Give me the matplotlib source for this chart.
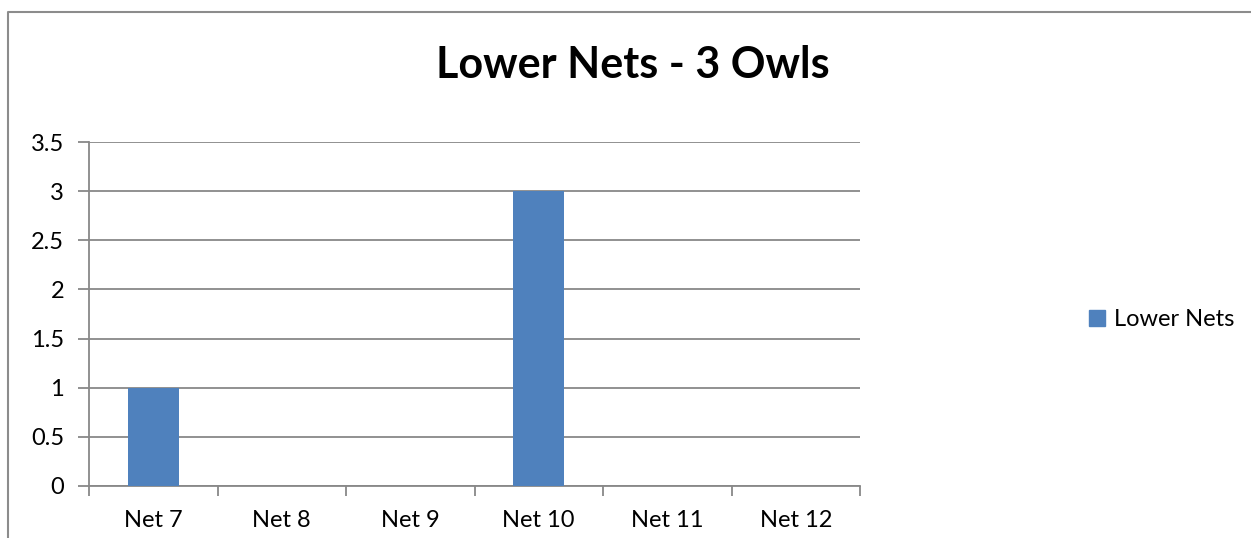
import numpy as np
import matplotlib.pyplot as plt
from matplotlib.lines import Line2D
from matplotlib.patches import Patch

plt.rcParams['font.family'] = ['Lato', 'DejaVu Sans']

# Daten
nets = ['Net 7', 'Net 8', 'Net 9', 'Net 10', 'Net 11', 'Net 12']
owls = [1, 0, 0, 3, 0, 0]

bar_color = '#4F81BD'
grey = '#888888'

W, H = 1251, 538
fig = plt.figure(figsize=(W / 100, H / 100), dpi=100)
ax = fig.add_axes([89 / W, 1 - 486 / H, (860 - 89) / W, (486 - 142) / H])

x = np.arange(len(nets))
ax.bar(x, owls, width=0.4, color=bar_color, zorder=3)

ax.set_xlim(-0.5, len(nets) - 0.5)
ax.set_ylim(0, 3.5)
ax.set_yticks(np.arange(0, 3.51, 0.5))
ax.set_yticklabels(['0', '0.5', '1', '1.5', '2', '2.5', '3', '3.5'])
ax.yaxis.grid(True, color=grey, linewidth=1.3, zorder=0)

# Kategorien-Beschriftung mittig, Teilstriche an den Grenzen
ax.set_xticks(x)
ax.set_xticklabels(nets)
ax.tick_params(axis='x', length=0, pad=17, labelsize=17)
ax.set_xticks(np.arange(-0.5, len(nets)), minor=True)
ax.tick_params(axis='x', which='minor', length=7, width=1.3, color=grey)
ax.tick_params(axis='y', length=8, width=1.3, color=grey, labelsize=17, pad=10)

for side in ['top', 'right']:
    ax.spines[side].set_visible(False)
for side in ['left', 'bottom']:
    ax.spines[side].set_color(grey)
    ax.spines[side].set_linewidth(1.3)

fig.text(633 / W, 1 - 65 / H, 'Lower Nets - 3 Owls', ha='center', va='center',
         fontsize=31, fontweight='bold')

fig.legend(handles=[Patch(color=bar_color, label='Lower Nets')],
           loc='center left', bbox_to_anchor=(1068 / W, 1 - 320 / H),
           frameon=False, fontsize=17, handlelength=0.65, handleheight=0.65,
           handletextpad=0.4)

# Rahmen um das Diagramm
fig.add_artist(Line2D([8 / W, 8 / W, 1], [0, 1 - 12 / H, 1 - 12 / H],
                      transform=fig.transFigure, color='#8c8c8c', linewidth=1.5))

fig.savefig('out.png', dpi=100)
